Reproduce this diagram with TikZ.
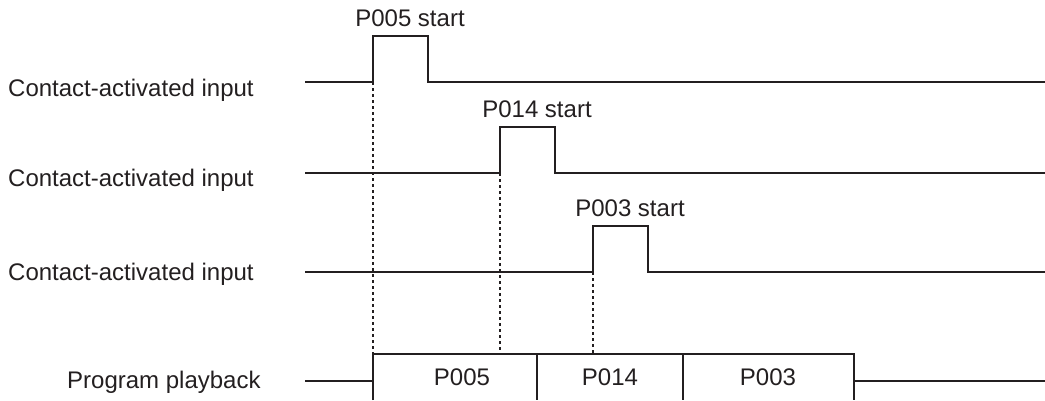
\documentclass[tikz,border=0pt]{standalone}
\usepackage{fontspec}
\setmainfont{Liberation Sans}
\usetikzlibrary{positioning}
\definecolor{inkgray}{HTML}{231F20}
\tikzset{
  sig/.style={inkgray, line width=2pt},
  guide/.style={inkgray, line width=1.6pt, dash pattern=on 3pt off 3pt},
  lbl/.style={text=inkgray, font=\fontsize{24}{28}\selectfont, inner sep=0pt},
}
\begin{document}
\begin{tikzpicture}[x=1pt,y=-1pt]
  \useasboundingbox (0,0) rectangle (1045,400);
  % Playback box
  \coordinate (top) at (373,354);
  \draw[sig] (305,381) -- (373,381);
  \draw[sig] (373,400) -- (top) -- (854,354) -- (854,400);
  \draw[sig] (537,354) -- (537,400);
  \draw[sig] (683,354) -- (683,400);
  \draw[sig] (854,381) -- (1045,381);
  \node[lbl, anchor=base west] (play) at (67,388) {Program playback};
  \node[lbl, anchor=base] (b1) at (462,385) {P005};
  \node[lbl, anchor=base] (b2) at (610,385) {P014};
  \node[lbl, anchor=base] (b3) at (768,385) {P003};
  % Input pulses
  \foreach \n/\y/\t/\r/\p in {1/82/96/373/P005, 2/173/186/500/P014, 3/272/280/593/P003} {
    \node[lbl, anchor=base west] (in\n) at (8,\t) {Contact-activated input};
    \coordinate (up\n) at (\r,\y);
    \draw[sig] (305,\y) -- (up\n) -- (\r,\y-46) -- (\r+55,\y-46) -- (\r+55,\y) -- (1045,\y);
    \node[lbl, anchor=base] (st\n) at (\r+37,\y-56) {\p\ start};
    % Guide down to box
    \draw[guide] (up\n) -- (up\n |- top);
  }
\end{tikzpicture}
\end{document}
